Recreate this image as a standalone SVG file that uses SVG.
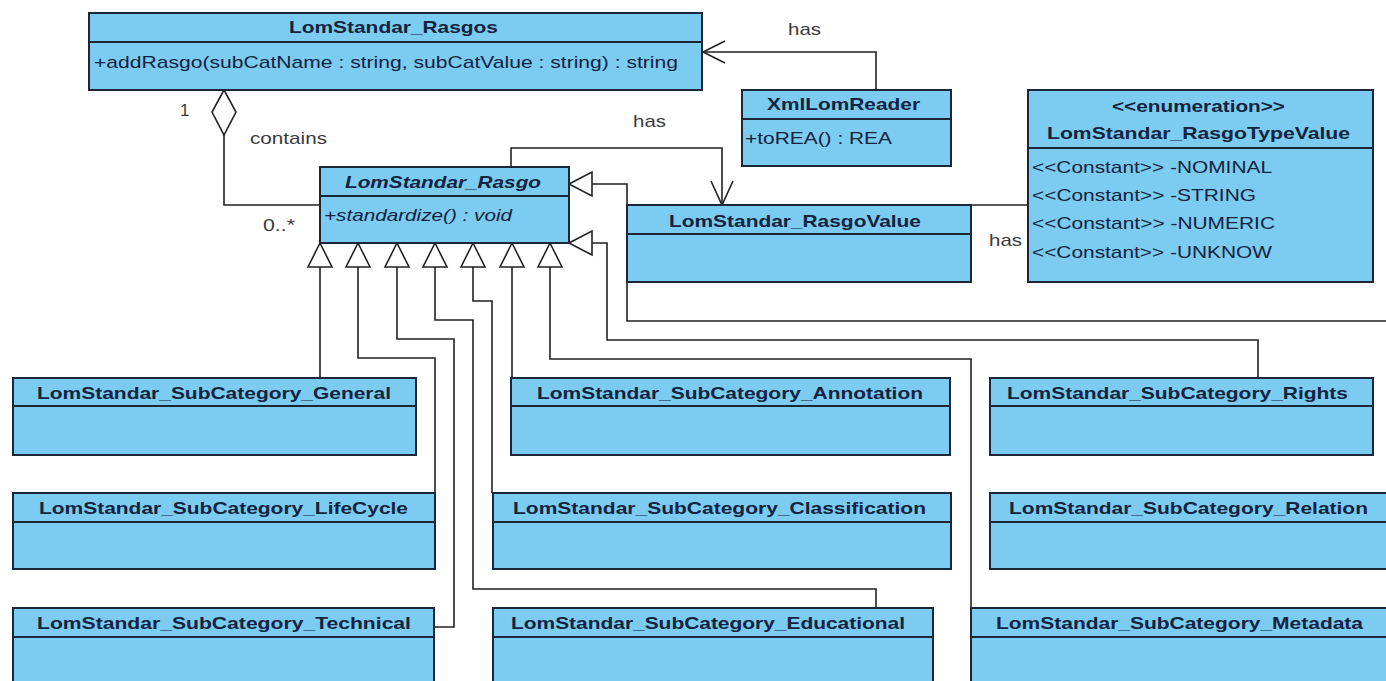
<svg xmlns="http://www.w3.org/2000/svg" width="1386" height="681" viewBox="0 0 1386 681">
<style>
.box{fill:#7ccbf0;stroke:#1b2638;stroke-width:2}
.sep{stroke:#1b2638;stroke-width:2}
.t{font-family:"Liberation Sans",Arial,sans-serif;font-size:17px;font-weight:bold;fill:#132340}
.m{font-family:"Liberation Sans",Arial,sans-serif;font-size:17px;fill:#132340}
.i{font-style:italic}
.lbl{font-family:"Liberation Sans",Arial,sans-serif;font-size:17px;fill:#3a3a3a}
.c{fill:none;stroke:#222;stroke-width:1.6}
.tri{fill:#fff;stroke:#222;stroke-width:1.6}
</style>
<rect width="1386" height="681" fill="#fff"/>

<g id="connectors">
  <!-- aggregation Rasgos <>- Rasgo -->
  <polygon class="tri" points="224,90 236,112 224,135 212,112"/>
  <polyline class="c" points="224,135 224,205 320,205"/>
  <!-- XmlLomReader -> Rasgos -->
  <polyline class="c" points="876,90 876,52 703,52"/>
  <polyline class="c" points="725,41 703,52 725,63"/>
  <!-- Rasgo -> RasgoValue -->
  <polyline class="c" points="511,167 511,148 722,148 722,205"/>
  <polyline class="c" points="711,181 722,205 733,181"/>
  <!-- RasgoValue - Enum -->
  <line class="c" x1="971" y1="205" x2="1028" y2="205"/>
  <!-- generalizations right side -->
  <polyline class="c" points="592,184 627,184 627,321 1386,321"/>
  <polygon class="tri" points="569,184 592,172 592,196"/>
  <polyline class="c" points="592,243 607,243 607,340 1258,340 1258,378"/>
  <polygon class="tri" points="569,243 592,231 592,255"/>
  <!-- generalizations bottom -->
  <polyline class="c" points="320,267 320,378"/>
  <polyline class="c" points="358,267 358,358 435,358 435,493"/>
  <polyline class="c" points="397,267 397,339 454,339 454,627 434,627"/>
  <polyline class="c" points="435,267 435,320 473,320 473,589 876,589 876,608"/>
  <polyline class="c" points="473,267 473,301 492,301 492,493"/>
  <polyline class="c" points="512,267 512,378"/>
  <polyline class="c" points="550,267 550,359 971,359 971,608"/>
  <polygon class="tri" points="320,243 332,267 308,267"/>
  <polygon class="tri" points="358,243 370,267 346,267"/>
  <polygon class="tri" points="397,243 409,267 385,267"/>
  <polygon class="tri" points="435,243 447,267 423,267"/>
  <polygon class="tri" points="473,243 485,267 461,267"/>
  <polygon class="tri" points="512,243 524,267 500,267"/>
  <polygon class="tri" points="550,243 562,267 538,267"/>
  <!-- labels -->
  <text class="lbl" x="788" y="35" textLength="33" lengthAdjust="spacingAndGlyphs">has</text>
  <text class="lbl" x="633" y="127" textLength="33" lengthAdjust="spacingAndGlyphs">has</text>
  <text class="lbl" x="989" y="246" textLength="33" lengthAdjust="spacingAndGlyphs">has</text>
  <text class="lbl" x="180" y="116">1</text>
  <text class="lbl" x="250" y="144" textLength="77" lengthAdjust="spacingAndGlyphs">contains</text>
  <text class="lbl" x="263" y="231" textLength="32" lengthAdjust="spacingAndGlyphs">0..*</text>
</g>

<g id="LomStandar_Rasgos">
  <rect class="box" x="89" y="13" width="613" height="77"/>
  <line class="sep" x1="89" y1="42" x2="702" y2="42"/>
  <text class="t" x="289" y="33" textLength="209" lengthAdjust="spacingAndGlyphs">LomStandar_Rasgos</text>
  <text class="m" x="94" y="68" textLength="584" lengthAdjust="spacingAndGlyphs">+addRasgo(subCatName : string, subCatValue : string) : string</text>
</g>

<g id="XmlLomReader">
  <rect class="box" x="742" y="90" width="209" height="76"/>
  <line class="sep" x1="742" y1="119" x2="951" y2="119"/>
  <text class="t" x="767" y="110" textLength="153" lengthAdjust="spacingAndGlyphs">XmlLomReader</text>
  <text class="m" x="745" y="144" textLength="147" lengthAdjust="spacingAndGlyphs">+toREA() : REA</text>
</g>

<g id="LomStandar_RasgoTypeValue">
  <rect class="box" x="1028" y="90" width="345" height="192"/>
  <line class="sep" x1="1028" y1="148" x2="1373" y2="148"/>
  <text class="t" x="1112" y="112" textLength="173" lengthAdjust="spacingAndGlyphs">&lt;&lt;enumeration&gt;&gt;</text>
  <text class="t" x="1047" y="139" textLength="303" lengthAdjust="spacingAndGlyphs">LomStandar_RasgoTypeValue</text>
  <text class="m" x="1032" y="173" textLength="240" lengthAdjust="spacingAndGlyphs">&lt;&lt;Constant&gt;&gt; -NOMINAL</text>
  <text class="m" x="1032" y="201" textLength="224" lengthAdjust="spacingAndGlyphs">&lt;&lt;Constant&gt;&gt; -STRING</text>
  <text class="m" x="1032" y="229" textLength="243" lengthAdjust="spacingAndGlyphs">&lt;&lt;Constant&gt;&gt; -NUMERIC</text>
  <text class="m" x="1032" y="258" textLength="240" lengthAdjust="spacingAndGlyphs">&lt;&lt;Constant&gt;&gt; -UNKNOW</text>
</g>

<g id="LomStandar_Rasgo">
  <rect class="box" x="320" y="167" width="249" height="76"/>
  <line class="sep" x1="320" y1="196" x2="569" y2="196"/>
  <text class="t i" x="345" y="188" textLength="196" lengthAdjust="spacingAndGlyphs">LomStandar_Rasgo</text>
  <text class="m i" x="324" y="221" textLength="188" lengthAdjust="spacingAndGlyphs">+standardize() : void</text>
</g>

<g id="LomStandar_RasgoValue">
  <rect class="box" x="627" y="205" width="344" height="77"/>
  <line class="sep" x1="627" y1="234" x2="971" y2="234"/>
  <text class="t" x="669" y="227" textLength="252" lengthAdjust="spacingAndGlyphs">LomStandar_RasgoValue</text>
</g>

<g id="General">
  <rect class="box" x="13" y="378" width="403" height="77"/>
  <line class="sep" x1="13" y1="406" x2="416" y2="406"/>
  <text class="t" x="37" y="399" textLength="354" lengthAdjust="spacingAndGlyphs">LomStandar_SubCategory_General</text>
</g>

<g id="LifeCycle">
  <rect class="box" x="13" y="493" width="422" height="76"/>
  <line class="sep" x1="13" y1="522" x2="435" y2="522"/>
  <text class="t" x="39" y="514" textLength="369" lengthAdjust="spacingAndGlyphs">LomStandar_SubCategory_LifeCycle</text>
</g>

<g id="Technical">
  <rect class="box" x="13" y="608" width="421" height="85"/>
  <line class="sep" x1="13" y1="637" x2="434" y2="637"/>
  <text class="t" x="37" y="629" textLength="374" lengthAdjust="spacingAndGlyphs">LomStandar_SubCategory_Technical</text>
</g>

<g id="Annotation">
  <rect class="box" x="511" y="378" width="439" height="77"/>
  <line class="sep" x1="511" y1="406" x2="950" y2="406"/>
  <text class="t" x="537" y="399" textLength="386" lengthAdjust="spacingAndGlyphs">LomStandar_SubCategory_Annotation</text>
</g>

<g id="Classification">
  <rect class="box" x="493" y="493" width="458" height="76"/>
  <line class="sep" x1="493" y1="522" x2="951" y2="522"/>
  <text class="t" x="513" y="514" textLength="413" lengthAdjust="spacingAndGlyphs">LomStandar_SubCategory_Classification</text>
</g>

<g id="Educational">
  <rect class="box" x="493" y="608" width="440" height="85"/>
  <line class="sep" x1="493" y1="637" x2="933" y2="637"/>
  <text class="t" x="511" y="629" textLength="394" lengthAdjust="spacingAndGlyphs">LomStandar_SubCategory_Educational</text>
</g>

<g id="Rights">
  <rect class="box" x="990" y="378" width="383" height="77"/>
  <line class="sep" x1="990" y1="406" x2="1373" y2="406"/>
  <text class="t" x="1007" y="399" textLength="341" lengthAdjust="spacingAndGlyphs">LomStandar_SubCategory_Rights</text>
</g>

<g id="Relation">
  <rect class="box" x="990" y="493" width="420" height="76"/>
  <line class="sep" x1="990" y1="522" x2="1410" y2="522"/>
  <text class="t" x="1009" y="514" textLength="359" lengthAdjust="spacingAndGlyphs">LomStandar_SubCategory_Relation</text>
</g>

<g id="Metadata">
  <rect class="box" x="971" y="608" width="440" height="85"/>
  <line class="sep" x1="971" y1="637" x2="1411" y2="637"/>
  <text class="t" x="996" y="629" textLength="367" lengthAdjust="spacingAndGlyphs">LomStandar_SubCategory_Metadata</text>
</g>
</svg>
